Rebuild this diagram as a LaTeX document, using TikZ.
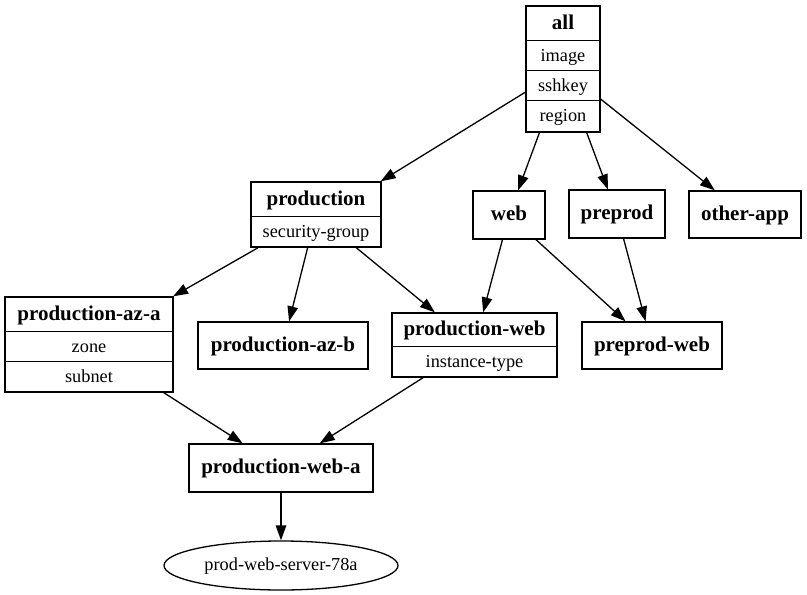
\documentclass[tikz,border=0pt]{standalone}
\usepackage{fontspec}
\setmainfont{Liberation Serif}
\usetikzlibrary{arrows.meta,shapes.geometric}
\begin{document}
\begin{tikzpicture}[x=1pt,y=-1pt,
  box/.style={draw, line width=1.3pt, inner sep=0pt, rectangle},
  bl/.style={font=\fontsize{21}{25}\selectfont\bfseries, text height=15.8pt, text depth=4.2pt, inner sep=0pt},
  rl/.style={font=\fontsize{18.3}{22}\selectfont, text height=13.7pt, text depth=3.7pt, inner sep=0pt},
  edge/.style={draw, line width=1.3pt, -{Triangle[length=15pt,width=10.5pt]}},
  div/.style={line width=1.3pt}
]
\fill[white] (0,0) rectangle (807,595);
\useasboundingbox (0,0) rectangle (807,595);

% record: all
\node[box, minimum width=74pt, minimum height=126pt] (all) at (563,69) {};
\node[bl] (allT) at (563,23.5) {all};
\node[rl] (allImage) at (563,56) {image};
\node[rl] (allSshkey) at (563,86) {sshkey};
\node[rl] (allRegion) at (563,116.5) {region};
\draw[div] ([yshift=-35pt]all.north west) -- ([yshift=-35pt]all.north east);
\draw[div] ([yshift=-65pt]all.north west) -- ([yshift=-65pt]all.north east);
\draw[div] ([yshift=-95pt]all.north west) -- ([yshift=-95pt]all.north east);

% record: production
\node[box, minimum width=130pt, minimum height=65pt] (production) at (316,214.5) {};
\node[bl] (productionT) at (316,199.5) {production};
\node[rl] (productionSG) at (316,232) {security-group};
\draw[div] ([yshift=-35pt]production.north west) -- ([yshift=-35pt]production.north east);

% simple boxes
\node[box, bl, minimum width=72pt, minimum height=48pt] (web) at (509,215) {web};
\node[box, bl, minimum width=96pt, minimum height=48pt] (preprod) at (617,214) {preprod};
\node[box, bl, minimum width=112pt, minimum height=47pt] (otherapp) at (745,214.5) {other-app};

% record: production-az-a
\node[box, minimum width=168pt, minimum height=95pt] (azA) at (89,344.5) {};
\node[bl] (azAT) at (89,314.5) {production-az-a};
\node[rl] (azAZone) at (89,347) {zone};
\node[rl] (azASubnet) at (89,377) {subnet};
\draw[div] ([yshift=-35pt]azA.north west) -- ([yshift=-35pt]azA.north east);
\draw[div] ([yshift=-65pt]azA.north west) -- ([yshift=-65pt]azA.north east);

\node[box, bl, minimum width=170pt, minimum height=47pt] (azB) at (283,345.5) {production-az-b};

% record: production-web
\node[box, minimum width=165pt, minimum height=64pt] (pweb) at (474.5,345) {};
\node[bl] (pwebT) at (474.5,330) {production-web};
\node[rl] (pwebIT) at (474.5,362) {instance-type};
\draw[div] ([yshift=-34pt]pweb.north west) -- ([yshift=-34pt]pweb.north east);

\node[box, bl, minimum width=140pt, minimum height=47pt] (ppweb) at (652,345.5) {preprod-web};
\node[box, bl, minimum width=184pt, minimum height=48pt] (pweba) at (281,468) {production-web-a};
\node[draw, ellipse, line width=1.3pt, inner sep=0pt, rl, minimum width=234pt, minimum height=49pt] (server) at (281,565.5) {prod-web-server-78a};

% edges
\draw[edge] (all) -- ([xshift=-1pt]production.north east);
\draw[edge] (all) -- (web);
\draw[edge] (all) -- (preprod);
\draw[edge] (all) -- (otherapp);
\draw[edge] (production) -- (azA);
\draw[edge] (production) -- (azB);
\draw[edge] (production) -- (pweb);
\draw[edge] (web) -- (pweb);
\draw[edge] (web) -- (ppweb);
\draw[edge] (preprod) -- (ppweb);
\draw[edge] (azA) -- (pweba);
\draw[edge] (pweb) -- (pweba);
\draw[edge] (pweba) -- (server);
\end{tikzpicture}
\end{document}
